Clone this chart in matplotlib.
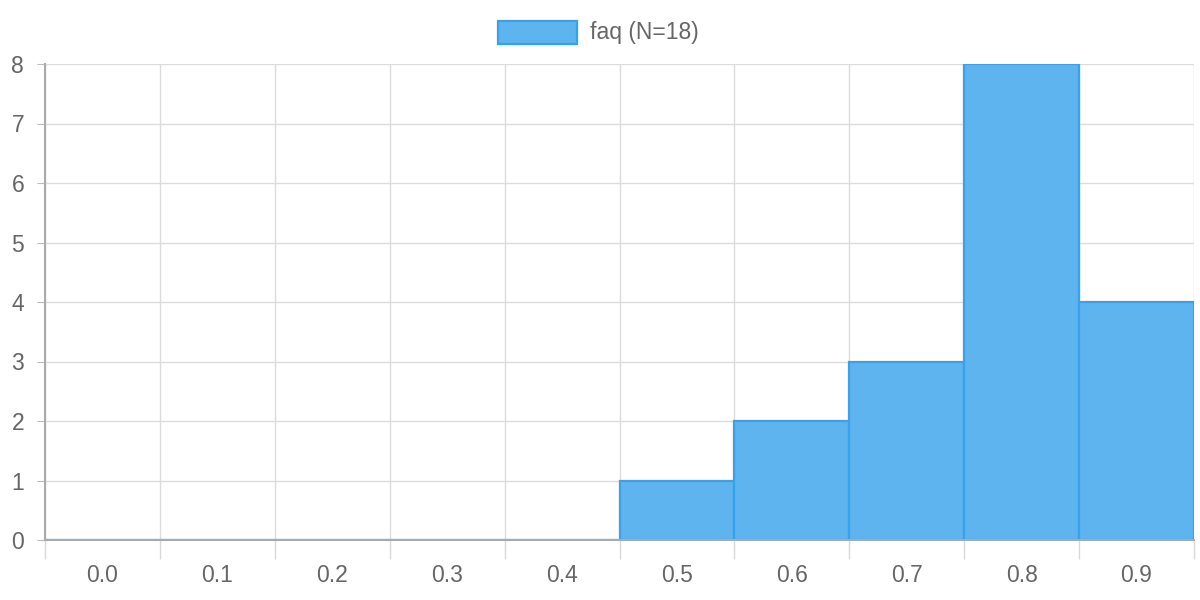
import numpy as np
import matplotlib.pyplot as plt
from matplotlib.patches import Rectangle

# histogram bins (bin centres) and counts
bin_labels = ["0.0", "0.1", "0.2", "0.3", "0.4", "0.5", "0.6", "0.7", "0.8", "0.9"]
counts = [0, 0, 0, 0, 0, 1, 2, 3, 8, 4]
series_name = "faq (N=18)"

plt.rcParams['font.family'] = ['Liberation Sans', 'DejaVu Sans']

fig = plt.figure(figsize=(12, 6), dpi=100)
ax = fig.add_axes([45 / 1200, 60 / 600, 1149 / 1200, 476 / 600])

x = np.arange(len(bin_labels))
ax.bar(x, counts, width=1.0, color='#5eb4ee', edgecolor='#36a2eb', linewidth=1.6, zorder=3)

ax.set_xlim(-0.5, len(bin_labels) - 0.5)
ax.set_ylim(0, 8)

# grid lines at bin edges, labels at centres
ax.set_xticks(np.arange(-0.5, len(bin_labels)), minor=False)
ax.set_xticklabels([])
ax.set_xticks(x, minor=True)
ax.set_xticklabels(bin_labels, minor=True)
ax.tick_params(axis='x', which='major', length=13.5, color='#d9d9d9', width=1)
ax.tick_params(axis='x', which='minor', length=0, pad=17, labelsize=16.5, labelcolor='#666666')
ax.set_yticks(range(0, 9))
ax.tick_params(axis='y', length=6, color='#bbbbbb', pad=9, labelsize=16.5, labelcolor='#666666')

ax.grid(True, which='major', color='#dcdcdc', linewidth=1, zorder=0)
for side in ['top', 'right']:
    ax.spines[side].set_visible(False)
ax.spines['left'].set_color('#aaaaaa')
ax.spines['bottom'].set_color('#aaaaaa')
ax.spines['left'].set_linewidth(1.5)
ax.spines['bottom'].set_linewidth(1.5)
ax.spines['left'].set_zorder(4)
ax.spines['bottom'].set_zorder(4)

# legend drawn like chart.js: box + label at the top centre
fig.patches.append(Rectangle((498 / 1200, 1 - 44 / 600), 79 / 1200, 23 / 600,
                             transform=fig.transFigure, facecolor='#5eb4ee',
                             edgecolor='#36a2eb', linewidth=1.6))
fig.text(590 / 1200, 1 - 33 / 600, series_name, fontsize=16.5, color='#666666', va='center', ha='left')

fig.savefig('out.png', dpi=100)
